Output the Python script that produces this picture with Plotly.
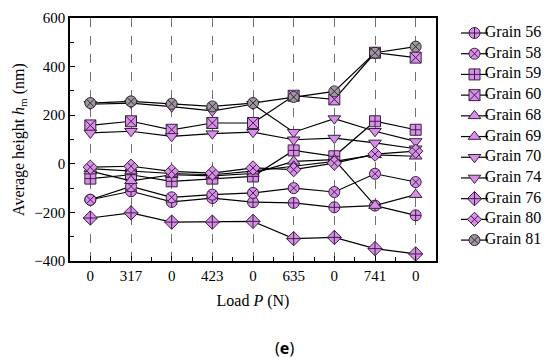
import plotly.graph_objects as go

loads = ["0", "317", "0", "423", "0", "635", "0", "741", "0"]
x_idx = list(range(len(loads)))

grain_56 = [-148, -113, -157, -141, -158, -161, -179, -172, -212]
grain_58 = [-148, -93, -138, -127, -120, -100, -116, -41, -75]
grain_59 = [-61, -45, -72, -61, -52, 55, 31, 175, 140]
grain_60 = [158, 175, 140, 168, 168, 280, 265, 457, 437]
grain_68 = [-30, -70, -45, -50, -40, 10, 17, -172, -127]
grain_69 = [-20, -30, -40, -45, -30, -10, 10, 37, 31]
grain_70 = [245, 250, 235, 218, 245, 130, 186, 134, 92]
grain_74 = [127, 134, 113, 124, 130, 99, 106, 86, 62]
grain_76 = [-223, -202, -240, -240, -237, -308, -303, -349, -371]
grain_80 = [-14, -10, -31, -38, -17, -24, 3, 40, 52]
grain_81 = [250, 257, 247, 236, 250, 275, 298, 457, 482]

series = [
    ("Grain 56", grain_56, "circle-cross"),
    ("Grain 58", grain_58, "circle-x"),
    ("Grain 59", grain_59, "square-cross"),
    ("Grain 60", grain_60, "square-x"),
    ("Grain 68", grain_68, "triangle-up"),
    ("Grain 69", grain_69, "triangle-up"),
    ("Grain 70", grain_70, "triangle-down"),
    ("Grain 74", grain_74, "triangle-down"),
    ("Grain 76", grain_76, "diamond-cross"),
    ("Grain 80", grain_80, "diamond-x"),
    ("Grain 81", grain_81, "circle-x"),
]

PURPLE = "#D98EEA"
GRAY = "#9A9A9A"
SERIF = "Liberation Serif"
EDGE = "#3a2040"

# plot area geometry: paper spans x 62..550 px, main plot 62..428 px
PAPER_W = 488.0
MAIN_R = 366.0 / PAPER_W
LEG_L = (453 - 62) / PAPER_W

fig = go.Figure()
for name, vals, sym in series:
    fill = GRAY if name == "Grain 81" else PURPLE
    fig.add_trace(go.Scatter(
        x=x_idx, y=vals, name=name, mode="lines+markers", showlegend=False,
        line=dict(color="black", width=1.2),
        marker=dict(symbol=sym, size=11, color=fill,
                    line=dict(color=EDGE, width=1)),
        xaxis="x", yaxis="y",
    ))

# custom legend drawn on its own small axes
for i, (name, vals, sym) in enumerate(series):
    fill = GRAY if name == "Grain 81" else PURPLE
    fig.add_trace(go.Scatter(
        x=[0, 1], y=[i, i], mode="lines", showlegend=False, hoverinfo="skip",
        line=dict(color="black", width=1.2), xaxis="x2", yaxis="y2",
    ))
    fig.add_trace(go.Scatter(
        x=[0.5], y=[i], mode="markers", showlegend=False, hoverinfo="skip",
        marker=dict(symbol=sym, size=11, color=fill,
                    line=dict(color=EDGE, width=1)),
        xaxis="x2", yaxis="y2",
    ))
    fig.add_trace(go.Scatter(
        x=[0.88], y=[i], mode="text", text=[name], textposition="middle right",
        showlegend=False, hoverinfo="skip", cliponaxis=False,
        textfont=dict(family=SERIF, size=16, color="black"),
        xaxis="x2", yaxis="y2",
    ))

fig.update_layout(
    width=550, height=358,
    margin=dict(l=62, r=0, t=10, b=105),
    paper_bgcolor="white", plot_bgcolor="white",
    font=dict(family=SERIF, size=15, color="black"),
    showlegend=False,
    xaxis=dict(
        domain=[0, MAIN_R],
        range=[-0.5, 8.5],
        tickmode="array", tickvals=x_idx, ticktext=loads,
        ticks="inside", ticklen=5, tickcolor="black",
        showline=True, linecolor="black", linewidth=1.5, mirror=True,
        showgrid=True, gridcolor="#707070", griddash="dash", gridwidth=1,
        zeroline=False,
        minor=dict(tickvals=[i + 0.5 for i in range(-1, 9)], ticks="inside",
                   ticklen=4, tickcolor="black", showgrid=False),
        tickfont=dict(family=SERIF, size=15),
        title=dict(text="Load <i>P</i> (N)", font=dict(family=SERIF, size=16),
                   standoff=12),
    ),
    yaxis=dict(
        domain=[0, 1],
        range=[-400, 600], tickmode="linear", tick0=-400, dtick=200,
        ticks="inside", ticklen=5, tickcolor="black",
        showline=True, linecolor="black", linewidth=1.5, mirror=True,
        showgrid=False, zeroline=False,
        minor=dict(dtick=100, ticks="inside", ticklen=4, tickcolor="black",
                   showgrid=False),
        tickfont=dict(family=SERIF, size=15),
        title=dict(text="Average height <i>h</i><sub>m</sub> (nm)",
                   font=dict(family=SERIF, size=16), standoff=6),
    ),
    xaxis2=dict(domain=[LEG_L, 1], range=[0, 97 / 27.0], visible=False,
                fixedrange=True, anchor="y2"),
    yaxis2=dict(domain=[0, 1], range=[11.01, -0.725], visible=False,
                fixedrange=True, anchor="x2"),
)

fig.add_annotation(
    text="(<b>e</b>)", xref="paper", yref="paper",
    x=(276 - 62) / PAPER_W, y=-0.358, xanchor="center", yanchor="middle",
    showarrow=False, font=dict(family="Noto Sans", size=16, color="black"),
)

fig.write_html("out.html")
